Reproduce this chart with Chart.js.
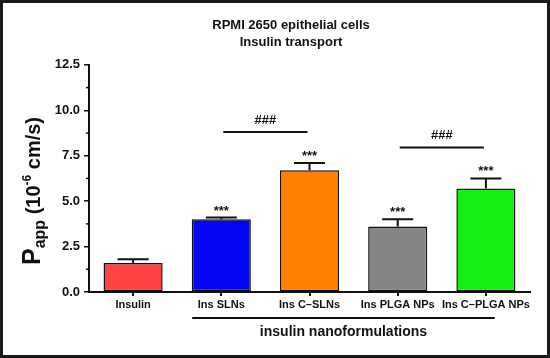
<!DOCTYPE html>
<html>
<head>
<meta charset="utf-8">
<script src="https://cdn.jsdelivr.net/npm/chart.js@4"></script>
<style>
  body { margin: 0; background: #fff; }
  #wrap { width: 550px; height: 358px; }
</style>
</head>
<body>
<div id="wrap"><canvas id="chart" width="550" height="358"></canvas></div>
<script>
const categories = ['Insulin', 'Ins SLNs', 'Ins C\u2013SLNs', 'Ins PLGA NPs', 'Ins C\u2013PLGA NPs'];
const papp = [1.6, 4.0, 6.7, 3.6, 5.7];
const sem = [0.2, 0.1, 0.4, 0.4, 0.55];
const stars = ['', '***', '***', '***', '***'];
const barColors = ['#ff4242', '#0505f5', '#ff8000', '#858585', '#14f014'];
const yTicks = [0, 2.5, 5, 7.5, 10, 12.5];
const yMinorTicks = [1.25, 3.75, 6.25, 8.75, 11.25];
const comparisons = [[1, 2], [3, 4]]; // pairs marked ###
const groupLabel = 'insulin nanoformulations';
const groupRange = [1, 4];

const FONT = 'Arial, "Liberation Sans", sans-serif';
const INK = '#111';

// error bars, stars, brackets, group label, axis title, frame
const extras = {
    id: 'extras',
    afterDatasetsDraw(chart) {
        const ctx = chart.ctx;
        const xs = chart.scales.x, ys = chart.scales.y;
        const area = chart.chartArea;
        const step = xs.getPixelForValue(1) - xs.getPixelForValue(0);
        ctx.save();
        ctx.strokeStyle = INK;
        ctx.fillStyle = INK;
        ctx.lineWidth = 2;

        // error bars (upper only)
        papp.forEach((v, i) => {
            const x = xs.getPixelForValue(i);
            const top = ys.getPixelForValue(v);
            const et = ys.getPixelForValue(v + sem[i]);
            ctx.beginPath();
            ctx.moveTo(x, top);
            ctx.lineTo(x, et);
            ctx.moveTo(x - 15.5, et);
            ctx.lineTo(x + 15.5, et);
            ctx.stroke();
            if (stars[i]) {
                ctx.font = 'bold 13px ' + FONT;
                ctx.textAlign = 'center';
                ctx.textBaseline = 'alphabetic';
                ctx.fillText(stars[i], x, et - 3);
            }
        });

        // ### brackets
        comparisons.forEach(([a, b]) => {
            const lvl = Math.max(papp[a] + sem[a], papp[b] + sem[b]) + 1.7;
            const y = ys.getPixelForValue(lvl);
            const x1 = xs.getPixelForValue(a) + 2, x2 = xs.getPixelForValue(b) - 2;
            ctx.beginPath();
            ctx.moveTo(x1, y);
            ctx.lineTo(x2, y);
            ctx.stroke();
            ctx.font = 'bold 13px ' + FONT;
            ctx.textAlign = 'center';
            ctx.textBaseline = 'alphabetic';
            ctx.fillText('###', (x1 + x2) / 2, y - 8.5);
        });

        // group label under the axis
        const gx1 = xs.getPixelForValue(groupRange[0]) - 0.33 * step;
        const gx2 = xs.getPixelForValue(groupRange[1]) + 0.1 * step;
        const gy = area.bottom + 26;
        ctx.beginPath();
        ctx.moveTo(gx1, gy);
        ctx.lineTo(gx2, gy);
        ctx.stroke();
        ctx.font = 'bold 14px ' + FONT;
        ctx.textAlign = 'center';
        ctx.textBaseline = 'middle';
        ctx.fillText(groupLabel, (gx1 + gx2) / 2, gy + 14);

        // minor ticks on y
        ctx.lineWidth = 1.5;
        yMinorTicks.forEach(v => {
            const y = ys.getPixelForValue(v);
            ctx.beginPath();
            ctx.moveTo(area.left - 3, y);
            ctx.lineTo(area.left, y);
            ctx.stroke();
        });

        // y axis title: P_app (10^-6 cm/s)
        const parts = [
            { t: 'P', f: 'bold 25px ', dy: 0 },
            { t: 'app', f: 'bold 16px ', dy: 5 },
            { t: ' (10', f: 'bold 20px ', dy: 0 },
            { t: '-6', f: 'bold 12px ', dy: -9 },
            { t: ' cm/s)', f: 'bold 20px ', dy: 0 }
        ];
        let total = 0;
        parts.forEach(p => { ctx.font = p.f + FONT; p.w = ctx.measureText(p.t).width; total += p.w; });
        ctx.translate(40, 191);
        ctx.rotate(-Math.PI / 2);
        ctx.textAlign = 'left';
        ctx.textBaseline = 'alphabetic';
        let px = -total / 2;
        parts.forEach(p => {
            ctx.font = p.f + FONT;
            ctx.fillText(p.t, px, p.dy);
            px += p.w;
        });
        ctx.restore();
    },
    afterDraw(chart) {
        const ctx = chart.ctx;
        ctx.save();
        ctx.strokeStyle = '#1a1a1a';
        ctx.lineWidth = 3;
        ctx.strokeRect(1.5, 1.5, chart.width - 3, chart.height - 3);
        ctx.restore();
    }
};

new Chart(document.getElementById('chart'), {
    type: 'bar',
    data: {
        labels: categories,
        datasets: [{
            data: papp,
            backgroundColor: barColors,
            borderColor: INK,
            borderWidth: 1.5,
            borderSkipped: false,
            barPercentage: 0.67,
            categoryPercentage: 1
        }]
    },
    options: {
        responsive: false,
        animation: false,
        layout: { padding: { left: 52, right: 20, top: 0, bottom: 0 } },
        plugins: {
            legend: { display: false },
            tooltip: { enabled: false },
            title: {
                display: true,
                text: ['RPMI 2650 epithelial cells', 'Insulin transport'],
                color: INK,
                font: { family: FONT, size: 13, weight: 'bold', lineHeight: 1.38 },
                padding: { top: 16, bottom: 13 }
            }
        },
        scales: {
            x: {
                grid: { display: true, drawOnChartArea: false, offset: false, tickLength: 4, lineWidth: 2, color: INK },
                border: { display: true, color: INK, width: 2 },
                ticks: { color: INK, font: { family: FONT, size: 11, weight: 'bold' }, padding: 2, maxRotation: 0, autoSkip: false },
                afterFit(s) { s.height = 66; }
            },
            y: {
                min: 0,
                max: 12.5,
                afterBuildTicks(s) { s.ticks = yTicks.map(v => ({ value: v })); },
                grid: { display: true, drawOnChartArea: false, tickLength: 5, lineWidth: 1.5, color: INK },
                border: { display: true, color: INK, width: 2 },
                ticks: { color: INK, font: { family: FONT, size: 13, weight: 'bold' }, padding: 4, callback: v => v.toFixed(1) },
                afterFit(s) { s.width = 37; }
            }
        }
    },
    plugins: [extras]
});
</script>
</body>
</html>
